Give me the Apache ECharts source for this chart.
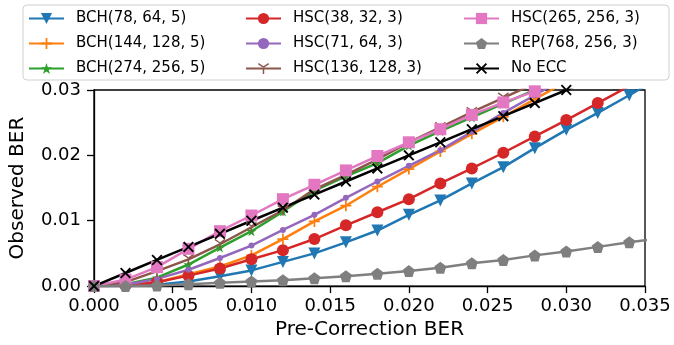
<!DOCTYPE html>
<html>
<head>
<meta charset="utf-8">
<script src="https://cdn.jsdelivr.net/npm/echarts@6/dist/echarts.min.js"></script>
<style>
html, body { margin: 0; padding: 0; background: #fff; }
#main { width: 674px; height: 345px; }
</style>
</head>
<body>
<div id="main"></div>
<script>
// pre-correction BER (x)
var berX = [0, 0.002, 0.004, 0.006, 0.008, 0.010, 0.012, 0.014, 0.016, 0.018, 0.020, 0.022, 0.024, 0.026, 0.028, 0.030, 0.032, 0.034, 0.036];

// observed BER per code
var bch78  = [0, 0.0000, 0.0002, 0.0007, 0.0015, 0.0024, 0.0037, 0.0050, 0.0067, 0.0085, 0.0109, 0.0131, 0.0157, 0.0182, 0.0211, 0.0239, 0.0265, 0.0292, 0.0320];
var bch144 = [0, 0.0001, 0.0006, 0.0018, 0.0030, 0.0047, 0.0072, 0.0099, 0.0123, 0.0152, 0.0179, 0.0206, 0.0233, 0.0259, 0.0286, 0.0313, 0.0340, 0.0370, 0.0400];
var bch274 = [0, 0.0003, 0.0013, 0.0033, 0.0059, 0.0084, 0.0114, 0.0146, 0.0168, 0.0188, 0.0215, 0.0237, 0.0258, 0.0279, 0.0300, 0.0320, 0.0340, 0.0360, 0.0380];
var hsc38  = [0, 0.0001, 0.0006, 0.0016, 0.0027, 0.0041, 0.0055, 0.0072, 0.0093, 0.0113, 0.0133, 0.0157, 0.0180, 0.0204, 0.0229, 0.0254, 0.0280, 0.0306, 0.0332];
var hsc71  = [0, 0.0002, 0.0011, 0.0025, 0.0043, 0.0062, 0.0086, 0.0109, 0.0135, 0.0160, 0.0184, 0.0208, 0.0236, 0.0265, 0.0292, 0.0320, 0.0350, 0.0380, 0.0410];
var hsc136 = [0, 0.0006, 0.0023, 0.0041, 0.0064, 0.0090, 0.0116, 0.0148, 0.0170, 0.0194, 0.0220, 0.0243, 0.0266, 0.0288, 0.0310, 0.0330, 0.0350, 0.0370, 0.0390];
var hsc265 = [0, 0.0010, 0.0029, 0.0057, 0.0084, 0.0108, 0.0133, 0.0155, 0.0177, 0.0199, 0.0220, 0.0240, 0.0262, 0.0281, 0.0298, 0.0320, 0.0340, 0.0360, 0.0380];
var rep768 = [0, 0.0000, 0.0001, 0.0003, 0.0005, 0.0007, 0.0009, 0.0012, 0.0015, 0.0019, 0.0023, 0.0028, 0.0035, 0.0040, 0.0047, 0.0053, 0.0060, 0.0067, 0.0073];
var noEcc  = [0, 0.002, 0.004, 0.006, 0.008, 0.010, 0.012, 0.014, 0.016, 0.018, 0.020, 0.022, 0.024, 0.026, 0.028, 0.030, 0.032, 0.034, 0.036];

var names = ['BCH(78, 64, 5)', 'BCH(144, 128, 5)', 'BCH(274, 256, 5)',
             'HSC(38, 32, 3)', 'HSC(71, 64, 3)', 'HSC(136, 128, 3)',
             'HSC(265, 256, 3)', 'REP(768, 256, 3)', 'No ECC'];

var FONT = 'DejaVu Sans';

var plusPath = 'path://M4.2,0h1.6v10h-1.6z M0,4.2h10v1.6h-10z';
var starPath = 'path://M5,0 L6.2,3.6 L10,3.6 L6.9,5.9 L8.1,9.5 L5,7.3 L1.9,9.5 L3.1,5.9 L0,3.6 L3.8,3.6 Z';
var triPath = 'path://M4.4,5 L4.4,10 L5.6,10 L5.6,5 Z M5,5.6 L0.4,2.9 L1,1.9 L5,4.4 Z M5,5.6 L9.6,2.9 L9,1.9 L5,4.4 Z';
var pentPath = 'path://M5,0 L10,3.8 L8.1,10 L1.9,10 L0,3.8 Z';
var xPath = 'path://M0,1.2 L1.2,0 L5,3.8 L8.8,0 L10,1.2 L6.2,5 L10,8.8 L8.8,10 L5,6.2 L1.2,10 L0,8.8 L3.8,5 Z';

function pairs(ys) {
    var out = [];
    for (var i = 0; i < berX.length; i++) {
        out.push([berX[i], ys[i]]);
    }
    return out;
}

function line(name, ys, color, symbol, size, rotate) {
    return {
        name: name,
        type: 'line',
        data: pairs(ys),
        symbol: symbol,
        symbolSize: size,
        symbolRotate: rotate || 0,
        showAllSymbol: true,
        clip: true,
        lineStyle: { color: color, width: 2.5 },
        itemStyle: { color: color, borderWidth: 0 },
        emphasis: { disabled: true },
        animation: false
    };
}

function legendCol(left, items) {
    return {
        orient: 'vertical',
        left: left,
        top: 6,
        itemWidth: 35,
        itemHeight: 14,
        itemGap: 10,
        data: items,
        textStyle: { fontFamily: FONT, fontSize: 15, color: '#000', padding: [0, 0, 0, 7] }
    };
}

var chart = echarts.init(document.getElementById('main'));

var option = {
    backgroundColor: '#fff',
    animation: false,
    graphic: [{
        type: 'rect',
        shape: { x: 23, y: 5, width: 646, height: 75, r: 4 },
        style: { fill: 'rgba(255,255,255,0.8)', stroke: '#d0d0d0', lineWidth: 1 },
        z: -1
    }],
    legend: [
        legendCol(23, names.slice(0, 3)),
        legendCol(240, names.slice(3, 6)),
        legendCol(458, names.slice(6, 9))
    ],
    grid: {
        left: 94, right: 29, top: 90, bottom: 58,
        show: true, borderColor: '#000', borderWidth: 1.3
    },
    xAxis: {
        type: 'value',
        min: 0, max: 0.035, interval: 0.005,
        name: 'Pre-Correction BER',
        nameLocation: 'middle',
        nameGap: 32,
        nameTextStyle: { fontFamily: FONT, fontSize: 20, color: '#000' },
        axisLine: { show: true, lineStyle: { color: '#000', width: 1.3 } },
        axisTick: { show: true, length: 7, lineStyle: { color: '#000', width: 1.3 } },
        axisLabel: {
            fontFamily: FONT, fontSize: 18, color: '#000', margin: 11,
            formatter: function (v) { return v.toFixed(3); }
        },
        splitLine: { show: false }
    },
    yAxis: {
        type: 'value',
        min: 0, max: 0.03, interval: 0.01,
        name: 'Observed BER',
        nameLocation: 'middle',
        nameGap: 66,
        nameTextStyle: { fontFamily: FONT, fontSize: 20, color: '#000' },
        axisLine: { show: true, lineStyle: { color: '#000', width: 1.3 } },
        axisTick: { show: true, length: 7, lineStyle: { color: '#000', width: 1.3 } },
        axisLabel: {
            fontFamily: FONT, fontSize: 18, color: '#000', margin: 13,
            formatter: function (v) { return v.toFixed(2); }
        },
        splitLine: { show: false }
    },
    series: [
        line(names[0], bch78, '#1f77b4', 'triangle', 12, 180),
        line(names[1], bch144, '#ff7f0e', plusPath, 11),
        line(names[2], bch274, '#2ca02c', starPath, 10),
        line(names[3], hsc38, '#d62728', 'circle', 12),
        line(names[4], hsc71, '#9467bd', 'circle', 6),
        line(names[5], hsc136, '#8c564b', triPath, 11),
        line(names[6], hsc265, '#e377c2', 'rect', 12),
        line(names[7], rep768, '#7f7f7f', pentPath, 12),
        line(names[8], noEcc, '#000000', xPath, 11)
    ]
};

chart.setOption(option);
</script>
</body>
</html>
